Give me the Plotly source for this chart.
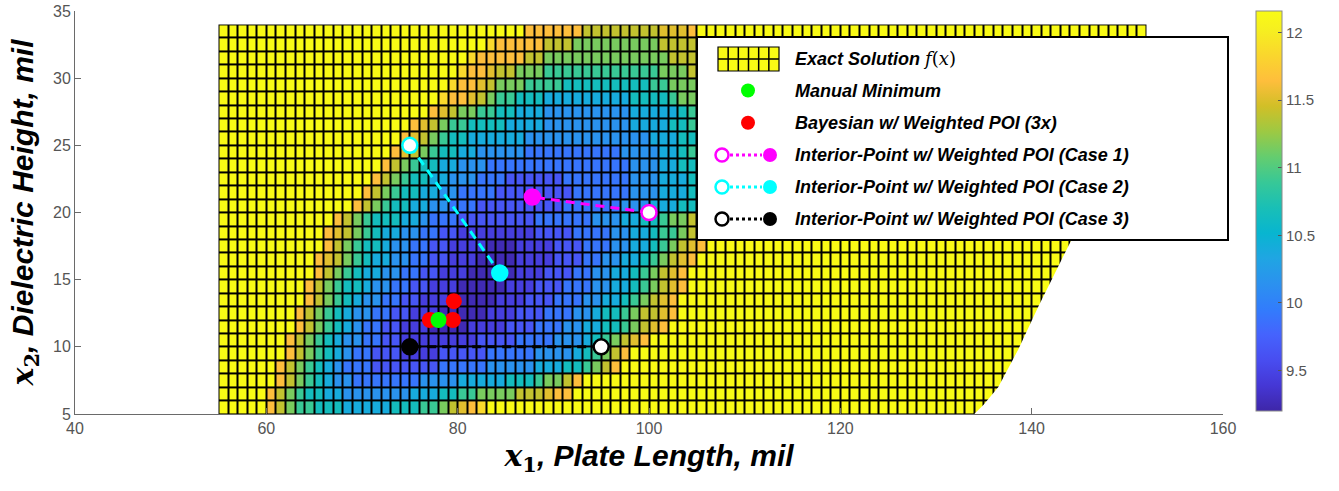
import plotly.graph_objects as go

# ---------------- data ----------------
X_EDGES = list(range(55, 153))   # cell edges along x1 (mil)
Y_EDGES = list(range(5, 35))     # cell edges along x2 (mil)

# colour level codes -> f(x) value
LEVEL_VALUES = {'0': 9.25, '1': 9.45, '2': 9.65, '3': 9.9, '4': 10.15, '5': 10.4,
                '6': 10.65, '7': 10.9, '8': 11.15, '9': 11.4, 'a': 11.52, 'b': 11.64,
                'c': 11.85, 'Y': 12.16}

# rows y = 5 .. 33 : first column (x) of the non-saturated part and its level codes
ROW_START = [60, 60, 61, 61, 62, 62, 63, 63, 64, 64, 65, 65, 66, 66, 67,
             69, 70, 71, 72, 73, 74, 75, 77, 78, 79, 80, 81, 83, 87]
ROW_CORE = [
    "b9877666555556667789abc",
    "b9876655444444455566778888999abb",
    "b987654433333334444555556667889b",
    "b9876543332222222333334444455566789b",
    "b9876543322211112222233333444456789b",
    "b98765443322111111112222333344456789ab",
    "b987654332211100001111222333445566789ab",
    "b9876544332211100000111222333445667899ab",
    "b987654433221110000011122233344556789ab",
    "b9876654433221110000011122233344556789ab",
    "b987655443322111000001112223344556789ab",
    "ba987655443322111000011112223344556789ab",
    "b9876654433221111000111122233344556789ab",
    "ba9876554433221111111122223333445567789ab",
    "b98766655433322222222333333444556678899ab",
    "b98766554433322222222233333344455566789ab",
    "b98766554433332222222233333344455566789ab",
    "b9876655444333222222333333344455566789ab",
    "b987665544433333333333333344455667789ab",
    "ba987665544444333333333344445567789ab",
    "ba98766555555444444444444455566789ab",
    "ba9877666655554444444445555667789ab",
    "ba98877665554444444445555567789ab",
    "cbba987766655555555566667889abc",
    "cbba98887777666666666778889abc",
    "cbba9988877777777777788899abc",
    "cbbbbb998888888888888999abc",
    "cbbbbb9998888888889999abc",
    "bbbbbb99999999aaab",
]

# right-hand cut of the surface (region outside the plotted domain)
CUT_X = [134.0, 135.0, 136.5, 138.6, 140.7, 142.8, 144.2, 147.0, 149.8, 152.2]
CUT_Y = [5.0, 5.7, 7.0, 9.8, 13.0, 16.0, 18.0, 22.0, 26.0, 29.5]

MANUAL_X, MANUAL_Y = [78.0], [12.0]
BAYES_X, BAYES_Y = [77.1, 79.5, 79.6], [12.0, 12.0, 13.4]
CASE1_X, CASE1_Y = [100.0, 87.8], [20.0, 21.15]
CASE2_X, CASE2_Y = [75.0, 84.4], [25.0, 15.5]
CASE3_X, CASE3_Y = [95.0, 75.0], [10.0, 10.0]

X_TICKS = [40, 60, 80, 100, 120, 140, 160]
Y_TICKS = [5, 10, 15, 20, 25, 30, 35]
CB_TICKS = [9.5, 10, 10.5, 11, 11.5, 12]
Z_MIN, Z_MAX = 9.2, 12.16

LEGEND_LABELS = [
    "<b><i>Exact Solution </i></b><span style='font-family:DejaVu Serif'><i>f</i>(<i>x</i>)</span>",
    "<b><i>Manual Minimum</i></b>",
    "<b><i>Bayesian w/ Weighted POI (3x)</i></b>",
    "<b><i>Interior-Point w/ Weighted POI (Case 1)</i></b>",
    "<b><i>Interior-Point w/ Weighted POI (Case 2)</i></b>",
    "<b><i>Interior-Point w/ Weighted POI (Case 3)</i></b>",
]

# ---------------- build surface ----------------
ncols = len(X_EDGES) - 1
Z = []
for start, core in zip(ROW_START, ROW_CORE):
    lead = start - X_EDGES[0]
    codes = 'Y' * lead + core + 'Y' * (ncols - lead - len(core))
    Z.append([LEVEL_VALUES[c] for c in codes])

PARULA = [
    [0 / 63, 'rgb(62,38,168)'], [4 / 63, 'rgb(69,55,213)'], [8 / 63, 'rgb(72,77,240)'],
    [12 / 63, 'rgb(69,99,253)'], [16 / 63, 'rgb(50,124,252)'], [20 / 63, 'rgb(43,145,239)'],
    [24 / 63, 'rgb(32,165,227)'], [28 / 63, 'rgb(8,181,208)'], [32 / 63, 'rgb(25,191,182)'],
    [36 / 63, 'rgb(55,200,151)'], [40 / 63, 'rgb(100,205,111)'], [44 / 63, 'rgb(157,201,67)'],
    [48 / 63, 'rgb(209,191,39)'], [52 / 63, 'rgb(254,190,60)'], [56 / 63, 'rgb(250,214,45)'],
    [60 / 63, 'rgb(246,239,32)'], [1.0, 'rgb(249,251,21)'],
]

W, H = 1339, 491
ML, MR, MT, MB = 75, 116, 11, 77
PW, PH = W - ML - MR, H - MT - MB


def pxx(x):
    return (x - ML) / PW


def pxy(y):
    return (H - MB - y) / PH


fig = go.Figure()

fig.add_trace(go.Heatmap(
    x=X_EDGES, y=Y_EDGES, z=Z, zmin=Z_MIN, zmax=Z_MAX, colorscale=PARULA,
    xgap=2, ygap=2, hoverinfo='skip',
    colorbar=dict(
        x=pxx(1256), xanchor='left', y=1.0, yanchor='top', len=400 / PH, lenmode='fraction',
        thickness=26, thicknessmode='pixels', xpad=0, ypad=0,
        outlinecolor='#8a8a8a', outlinewidth=1,
        tickvals=CB_TICKS, ticktext=[str(v) for v in CB_TICKS],
        ticks='inside', ticklen=4, tickcolor='#555', tickwidth=1,
        tickfont=dict(family='Liberation Sans, Arial', size=15, color='#555555'),
    ),
))

# blank out the cut region
fig.add_trace(go.Scatter(
    x=CUT_X + [152.8, 152.8], y=CUT_Y + [CUT_Y[-1], CUT_Y[0]],
    fill='toself', fillcolor='white', mode='lines', line=dict(width=0, color='white'),
    hoverinfo='skip', showlegend=False,
))

DASH = '9px,6px'
for xs, ys, col in [(CASE1_X, CASE1_Y, '#ff00ff'), (CASE2_X, CASE2_Y, '#00ffff'),
                    (CASE3_X, CASE3_Y, '#000000')]:
    fig.add_trace(go.Scatter(
        x=xs, y=ys, mode='lines+markers',
        line=dict(color=col, width=3, dash=DASH),
        marker=dict(size=15, color=['white', col], line=dict(color=col, width=2.5)),
        hoverinfo='skip', showlegend=False,
    ))

fig.add_trace(go.Scatter(x=BAYES_X, y=BAYES_Y, mode='markers',
                         marker=dict(size=16, color='#ff0000'), hoverinfo='skip', showlegend=False))
fig.add_trace(go.Scatter(x=MANUAL_X, y=MANUAL_Y, mode='markers',
                         marker=dict(size=16, color='#00ff00'), hoverinfo='skip', showlegend=False))

# ---------------- shapes (grid backing + custom legend) ----------------
shapes = [dict(type='rect', xref='x', yref='y', x0=X_EDGES[0], x1=X_EDGES[-1],
               y0=Y_EDGES[0], y1=Y_EDGES[-1], fillcolor='black', line=dict(width=0),
               layer='below')]

# legend box
shapes.append(dict(type='rect', xref='paper', yref='paper', x0=pxx(697), x1=pxx(1228),
                   y0=pxy(240), y1=pxy(37), fillcolor='white', line=dict(color='black', width=2)))

row_y = [58.5, 90.5, 122.8, 155.0, 187.0, 219.0]
# grid icon
gx0, gx1, gy0, gy1 = 718, 779, 47, 71
shapes.append(dict(type='rect', xref='paper', yref='paper', x0=pxx(gx0), x1=pxx(gx1),
                   y0=pxy(gy1), y1=pxy(gy0), fillcolor='rgb(249,251,21)',
                   line=dict(color='black', width=1.2)))
for i in range(1, 6):
    xx = gx0 + i * (gx1 - gx0) / 6
    shapes.append(dict(type='line', xref='paper', yref='paper', x0=pxx(xx), x1=pxx(xx),
                       y0=pxy(gy1), y1=pxy(gy0), line=dict(color='black', width=1.5)))
shapes.append(dict(type='line', xref='paper', yref='paper', x0=pxx(gx0), x1=pxx(gx1),
                   y0=pxy((gy0 + gy1) / 2), y1=pxy((gy0 + gy1) / 2),
                   line=dict(color='black', width=1.5)))


def dot(cx, cy, fill, edge, r=7, lw=0):
    return dict(type='circle', xref='paper', yref='paper', xsizemode='pixel', ysizemode='pixel',
                xanchor=pxx(cx), yanchor=pxy(cy), x0=-r, x1=r, y0=-r, y1=r,
                fillcolor=fill, line=dict(color=edge, width=lw))


shapes.append(dot(748, row_y[1], '#00ff00', '#00ff00'))
shapes.append(dot(748, row_y[2], '#ff0000', '#ff0000'))
for k, col in zip([3, 4, 5], ['#ff00ff', '#00ffff', '#000000']):
    cy = row_y[k]
    shapes.append(dict(type='line', xref='paper', yref='paper', x0=pxx(730), x1=pxx(762),
                       y0=pxy(cy), y1=pxy(cy), line=dict(color=col, width=3, dash='dot')))
    shapes.append(dot(722, cy, 'white', col, r=6.5, lw=2.5))
    shapes.append(dot(770, cy, col, col, r=7))

annotations = []
for lab, cy in zip(LEGEND_LABELS, row_y):
    annotations.append(dict(xref='paper', yref='paper', x=pxx(793), y=pxy(cy), text=lab,
                            showarrow=False, xanchor='left', yanchor='middle',
                            font=dict(family='Liberation Sans, Arial', size=18, color='black')))

axis_common = dict(showgrid=False, zeroline=False, showline=True, linecolor='#6a6a6a',
                   linewidth=1, ticks='inside', ticklen=6, tickcolor='#6a6a6a', tickwidth=1,
                   mirror=False,
                   tickfont=dict(family='Liberation Sans, Arial', size=16, color='#555555'))

fig.update_layout(
    width=W, height=H, autosize=False,
    margin=dict(l=ML, r=MR, t=MT, b=MB, autoexpand=False),
    paper_bgcolor='white', plot_bgcolor='white', showlegend=False,
    xaxis=dict(range=[40, 160], tickvals=X_TICKS, **axis_common,
               title=dict(text="<span style='font-family:DejaVu Serif'><b><i>x</i><sub>1</sub></b></span>"
                               "<b><i>, Plate Length, mil</i></b>",
                          font=dict(family='Liberation Sans, Arial', size=30, color='black'),
                          standoff=8)),
    yaxis=dict(range=[5, 35], tickvals=Y_TICKS, **axis_common,
               title=dict(text="<span style='font-family:DejaVu Serif'><b><i>x</i><sub>2</sub></b></span>"
                               "<b><i>, Dielectric Height, mil</i></b>",
                          font=dict(family='Liberation Sans, Arial', size=30, color='black'),
                          standoff=10)),
    shapes=shapes, annotations=annotations,
)

fig.write_html("out.html")
